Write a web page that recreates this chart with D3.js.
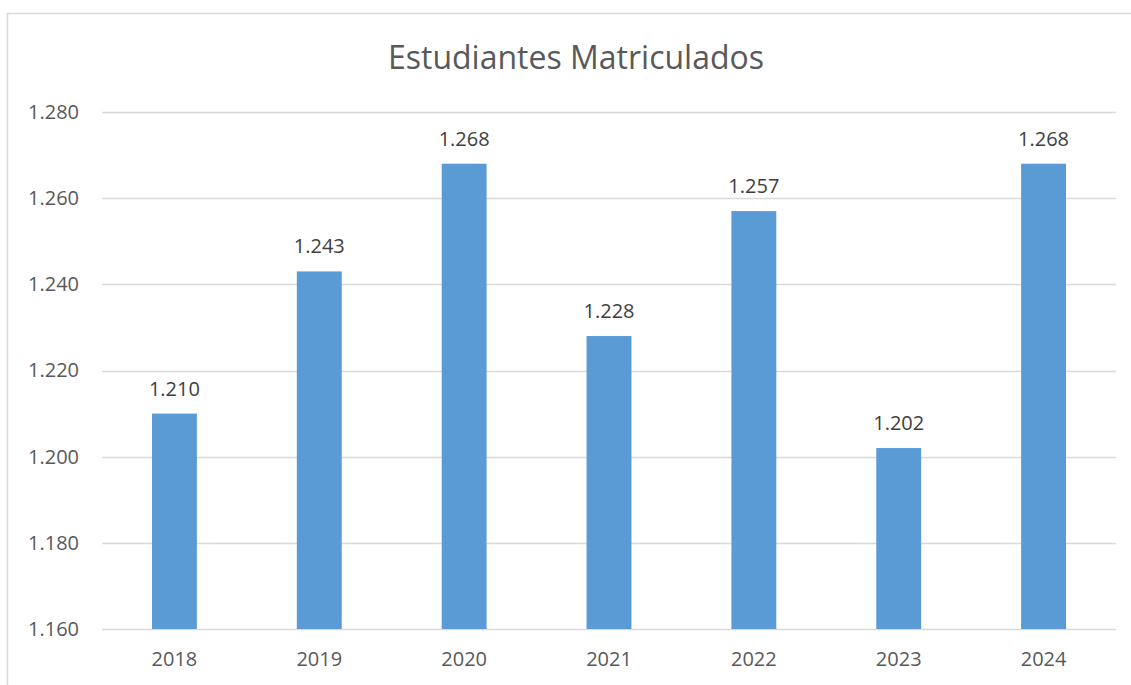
<!DOCTYPE html>
<html>
<head>
<meta charset="utf-8">
<script src="https://cdn.jsdelivr.net/npm/d3@7"></script>
<style>
  body { margin: 0; background: #fff; }
  text { font-family: "Open Sans", "Liberation Sans", sans-serif; }
</style>
</head>
<body>
<div id="chart"></div>
<script>
// chart data
var years = ["2018", "2019", "2020", "2021", "2022", "2023", "2024"];
var students = [1.210, 1.243, 1.268, 1.228, 1.257, 1.202, 1.268];
var yTicks = [1.160, 1.180, 1.200, 1.220, 1.240, 1.260, 1.280];
var title = "Estudiantes Matriculados";

var svgWidth = 1131;
var svgHeight = 685;
var margin = { top: 112, right: 15, bottom: 56, left: 102 };
var width = svgWidth - margin.left - margin.right;
var height = svgHeight - margin.top - margin.bottom;

var svg = d3.select("#chart")
  .append("svg")
  .attr("width", svgWidth)
  .attr("height", svgHeight);

// outer chart border
svg.append("rect")
  .attr("x", 7.5).attr("y", 13.5)
  .attr("width", svgWidth)
  .attr("height", svgHeight)
  .attr("fill", "none")
  .attr("stroke", "#d9d9d9")
  .attr("stroke-width", 1.5);

svg.append("text")
  .attr("x", 576)
  .attr("y", 69)
  .attr("text-anchor", "middle")
  .attr("font-size", "32px")
  .attr("fill", "#595959")
  .text(title);

var chartGroup = svg.append("g")
  .attr("transform", `translate(${margin.left}, ${margin.top})`);

var xScale = d3.scaleBand()
  .domain(years)
  .range([0, width])
  .paddingInner(0.69)
  .paddingOuter(0.345);

var yScale = d3.scaleLinear()
  .domain([1.160, 1.280])
  .range([height, 0]);

// gridlines
chartGroup.selectAll(".grid")
  .data(yTicks)
  .enter()
  .append("line")
  .attr("x1", 0)
  .attr("x2", width)
  .attr("y1", d => Math.round(yScale(d)) + 0.5)
  .attr("y2", d => Math.round(yScale(d)) + 0.5)
  .attr("stroke", "#d9d9d9")
  .attr("stroke-width", 1.3);

var leftAxis = d3.axisLeft(yScale)
  .tickValues(yTicks)
  .tickSize(0)
  .tickPadding(23)
  .tickFormat(d => d3.format(".3f")(d));

var yAxis = chartGroup.append("g").call(leftAxis);
yAxis.select(".domain").remove();
yAxis.selectAll("text")
  .attr("font-size", "20px")
  .attr("font-family", "'Open Sans', sans-serif")
  .attr("fill", "#595959");

var bottomAxis = d3.axisBottom(xScale).tickSize(0).tickPadding(23);
var xAxis = chartGroup.append("g")
  .attr("transform", `translate(0, ${height})`)
  .call(bottomAxis);
xAxis.select(".domain").remove();
xAxis.selectAll("text")
  .attr("font-size", "20px")
  .attr("font-family", "'Open Sans', sans-serif")
  .attr("fill", "#595959");

// bars
chartGroup.selectAll(".bar")
  .data(years)
  .enter()
  .append("rect")
  .attr("x", d => xScale(d))
  .attr("y", (d, i) => yScale(students[i]))
  .attr("width", xScale.bandwidth())
  .attr("height", (d, i) => height - yScale(students[i]))
  .attr("fill", "#5b9bd5");

// data labels
chartGroup.selectAll(".label")
  .data(years)
  .enter()
  .append("text")
  .attr("x", d => xScale(d) + xScale.bandwidth() / 2)
  .attr("y", (d, i) => yScale(students[i]) - 18)
  .attr("text-anchor", "middle")
  .attr("font-size", "20px")
  .attr("fill", "#404040")
  .text((d, i) => d3.format(".3f")(students[i]));
</script>
</body>
</html>
